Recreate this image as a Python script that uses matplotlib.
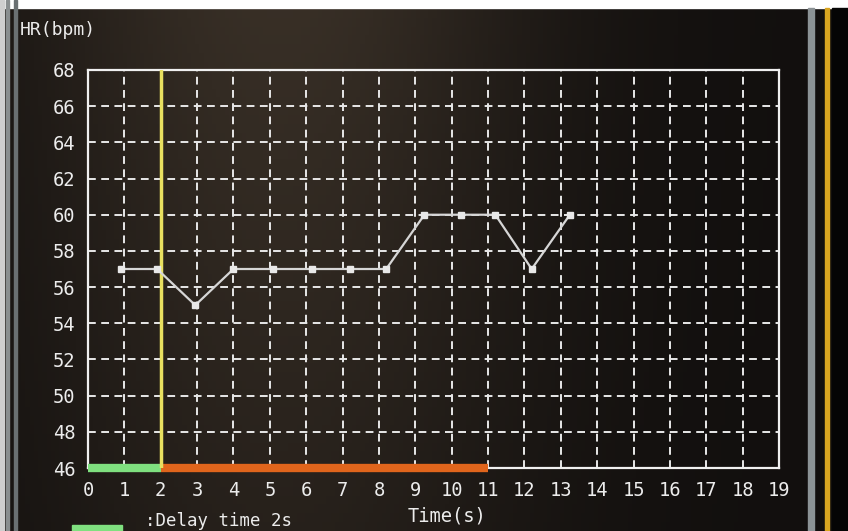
import numpy as np
import matplotlib
matplotlib.use("Agg")
import matplotlib.pyplot as plt
from matplotlib.patches import Rectangle

# ---- data ----
time_s = [0.9, 1.9, 2.95, 4.0, 5.1, 6.15, 7.2, 8.2, 9.25, 10.25, 11.2, 12.2, 13.25]
hr_bpm = [57, 57, 55, 57, 57, 57, 57, 57, 60, 60, 60, 57, 60]
x_ticks = list(range(0, 20))
y_ticks = list(range(46, 69, 2))
delay_span = (0, 2)
active_span = (2, 11)
marker_x = 2

W, H = 848, 531
fig = plt.figure(figsize=(W / 100, H / 100), dpi=100)
fig.patch.set_facecolor("#161412")

# photo-like background gradient
bg = fig.add_axes([0, 0, 1, 1], zorder=-10)
bg.set_axis_off()
gx = np.linspace(0, 1, 200)
gy = np.linspace(0, 1, 60)[:, None]
grad = np.exp(-((gx[None, :] - 0.33) / 0.3) ** 2) * (0.55 + 0.45 * gy)
img = np.zeros((60, 200, 3))
base = np.array([0.07, 0.06, 0.055])
light = np.array([0.22, 0.185, 0.15])
for c in range(3):
    img[:, :, c] = base[c] + (light[c] - base[c]) * grad
bg.imshow(img, aspect="auto", extent=[0, 1, 0, 1], origin="lower")
bg.set_xlim(0, 1)
bg.set_ylim(0, 1)
# screen frame decorations
bg.add_patch(Rectangle((0, 1 - 8 / H), 1, 8 / H, color="white", zorder=2))
bg.add_patch(Rectangle((0, 0), 4 / W, 1, color="#cfcfcf", zorder=2))
bg.add_patch(Rectangle((6 / W, 0), 3 / W, 1, color="#8a8f90", zorder=2))
bg.add_patch(Rectangle((14 / W, 0), 3 / W, 1, color="#6a7072", zorder=2))
bg.add_patch(Rectangle((808 / W, 0), 6 / W, 1 - 8 / H, color="#8c9396", zorder=2))
bg.add_patch(Rectangle((825 / W, 0), 4 / W, 1 - 8 / H, color="#d9a520", zorder=2))
bg.add_patch(Rectangle((832 / W, 0), 16 / W, 1 - 8 / H, color="#050505", zorder=2))

ax = fig.add_axes([88 / W, 1 - 468 / H, (779 - 88) / W, (468 - 70) / H])
ax.set_facecolor("none")
ax.set_xlim(0, 19)
ax.set_ylim(46, 68)
ax.set_xticks(x_ticks)
ax.set_yticks(y_ticks)
ax.set_xticklabels([str(v) for v in x_ticks])
ax.set_yticklabels([str(v) for v in y_ticks])
ax.tick_params(length=0, colors="#ececec", labelsize=13.5, pad=9)
for lab in ax.get_xticklabels() + ax.get_yticklabels():
    lab.set_family("DejaVu Sans Mono")
for sp in ax.spines.values():
    sp.set_color("#f0f0f0")
    sp.set_linewidth(1.6)

ax.grid(True, color="#e8e8e8", linewidth=1.4, linestyle=(0, (4, 2.8)))
ax.set_axisbelow(True)

# delay / active bars at bottom
ax.plot(delay_span, [46, 46], color="#7fe07f", linewidth=6, solid_capstyle="butt",
        clip_on=False, zorder=4)
ax.plot(active_span, [46, 46], color="#e0651c", linewidth=6, solid_capstyle="butt",
        clip_on=False, zorder=4)
ax.axvline(marker_x, color="#e8e060", linewidth=2.5, zorder=5)

ax.plot(time_s, hr_bpm, color="#d6d6d6", linewidth=1.6, marker="s", markersize=4.5,
        markerfacecolor="#e8e8e8", markeredgecolor="#e8e8e8", zorder=6)

fig.text(20 / W, 1 - 30 / H, "HR(bpm)", color="#ececec", fontsize=13,
         family="DejaVu Sans Mono", ha="left", va="center")
fig.text(447 / W, 1 - 516 / H, "Time(s)", color="#ececec", fontsize=13.5,
         family="DejaVu Sans Mono", ha="center", va="center")
fig.patches.append(Rectangle((72 / W, 0), 50 / W, 6 / H, color="#7fe07f",
                             transform=fig.transFigure, figure=fig))
fig.text(145 / W, 1 - 521 / H, ":Delay time 2s", color="#ececec", fontsize=12.5,
         family="DejaVu Sans Mono", ha="left", va="center")

fig.savefig("out.png", dpi=100, facecolor=fig.get_facecolor())
